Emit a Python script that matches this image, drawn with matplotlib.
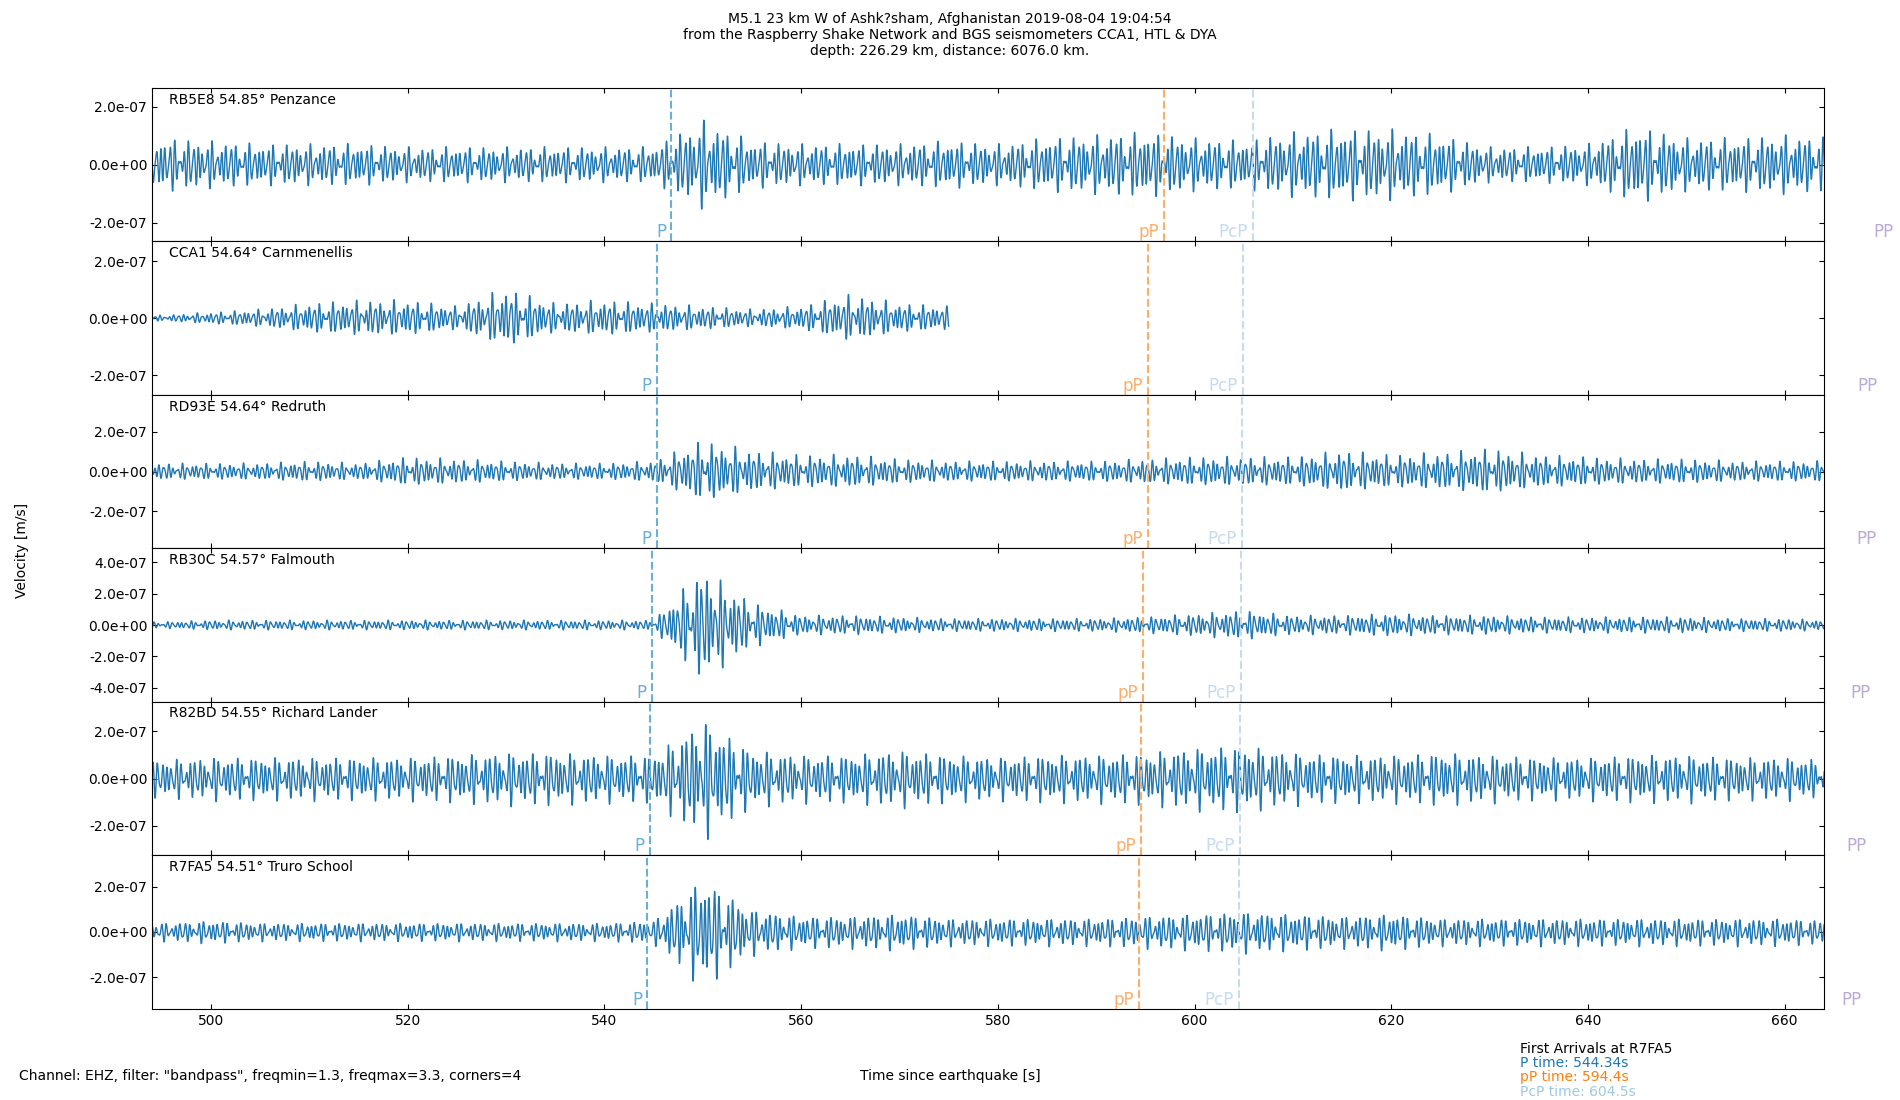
import numpy as np
import matplotlib
matplotlib.use("Agg")
import matplotlib.pyplot as plt

stations = ["RB5E8 54.85° Penzance", "CCA1 54.64° Carnmenellis", "RD93E 54.64° Redruth",
            "RB30C 54.57° Falmouth", "R82BD 54.55° Richard Lander", "R7FA5 54.51° Truro School"]
p_times = [546.8, 545.3, 545.3, 544.8, 544.6, 544.34]
pp_small_times = [596.9, 595.3, 595.3, 594.8, 594.6, 594.4]
pcp_times = [605.9, 604.9, 604.8, 604.7, 604.6, 604.5]
PP_times = [671.6, 670.0, 669.8, 669.2, 668.8, 668.3]
ylims = [2.65e-7, 2.7e-7, 3.85e-7, 4.9e-7, 3.25e-7, 3.4e-7]

# envelope (peak amplitude, 1e-7 m/s) every 5 s from 495 s
env_t = np.arange(495, 666, 5)
envelopes = [
    [0.9,0.8,0.7,0.7,0.7,0.6,0.6,0.6,0.6,0.6,0.6,1.5,0.8,0.7,0.7,0.7,0.8,0.7,0.9,1.0,1.1,0.9,0.8,1.1,1.2,1.2,1.0,0.6,0.6,0.7,1.3,0.9,0.9,1.0,0.9],
    [0.1,0.2,0.3,0.5,0.6,0.6,0.4,1.0,0.5,0.6,0.5,0.4,0.3,0.4,0.8,0.5,0.4] + [np.nan]*18,
    [0.4,0.4,0.4,0.5,0.4,0.7,0.6,0.5,0.4,0.4,0.5,1.5,1.0,0.8,0.8,0.6,0.5,0.5,0.5,0.5,0.6,0.7,0.7,0.7,1.0,0.8,0.9,1.1,0.8,0.7,0.6,0.6,0.5,0.5,0.5],
    [0.2,0.3,0.3,0.3,0.3,0.3,0.3,0.3,0.3,0.3,0.3,3.5,1.4,0.6,0.6,0.5,0.4,0.4,0.4,0.4,0.5,0.7,0.9,0.6,0.6,0.7,0.6,0.6,0.5,0.5,0.5,0.5,0.4,0.4,0.3],
    [0.8,0.9,0.9,0.9,0.9,0.9,1.0,1.1,1.1,1.0,1.0,2.5,1.2,1.0,1.0,1.2,1.0,0.9,1.0,1.0,1.1,1.3,1.4,1.1,1.0,1.0,1.1,1.0,0.9,0.9,1.0,1.0,0.9,0.9,0.8],
    [0.4,0.5,0.4,0.4,0.4,0.4,0.4,0.4,0.4,0.4,0.5,2.4,1.0,0.7,0.7,0.8,0.6,0.6,0.6,0.6,0.7,0.8,0.9,0.8,0.7,0.8,0.6,0.6,0.6,0.6,0.6,0.6,0.6,0.6,0.5],
]

fig, axes = plt.subplots(6, 1, sharex=True, figsize=(19, 11), dpi=100)
fig.subplots_adjust(left=0.080, right=0.960, top=0.920, bottom=0.083, hspace=0)

t = np.arange(494, 665, 0.02)
for i, ax in enumerate(axes):
    env = np.interp(t, env_t, np.array(envelopes[i], dtype=float)) * 1e-7
    carrier = (0.55 * np.sin(2 * np.pi * 2.1 * t + i) + 0.3 * np.sin(2 * np.pi * 2.9 * t + 2 * i)
               + 0.25 * np.sin(2 * np.pi * 1.6 * t + 3 * i))
    ax.plot(t, env * carrier, color="#1f77b4", lw=1)
    ax.set_xlim(494, 664)
    ax.set_ylim(-ylims[i], ylims[i])
    lim = 4e-7 if ylims[i] > 4e-7 else 2e-7
    ax.set_yticks(np.arange(-lim, lim + 1e-9, 2e-7))
    ax.yaxis.set_major_formatter(matplotlib.ticker.FormatStrFormatter("%.1e"))
    ax.tick_params(direction="in", right=True, top=True, labelsize=10)
    ax.text(0.01, 0.97, stations[i], transform=ax.transAxes, va="top", fontsize=10)
    ybot = -ylims[i]
    for x, lab, c in [(p_times[i], "P", "#6baed6"), (pp_small_times[i], "pP", "#fdae6b"),
                      (pcp_times[i], "PcP", "#c6dbef"), (PP_times[i], "PP", "#bcaad6")]:
        if x < 664:
            ax.axvline(x, color=c, ls="--", lw=1.5)
        ax.text(x - 0.5, ybot, lab, color=c, ha="right", va="bottom", fontsize=12, clip_on=False)

axes[-1].set_xticks(range(500, 661, 20))
axes[-1].tick_params(axis="x", labelsize=10)
fig.text(0.5, 0.968, "M5.1 23 km W of Ashk?sham, Afghanistan 2019-08-04 19:04:54\n"
         "from the Raspberry Shake Network and BGS seismometers CCA1, HTL & DYA\n"
         "depth: 226.29 km, distance: 6076.0 km.", ha="center", va="center", fontsize=10)
fig.text(0.008, 0.5, "Velocity [m/s]", rotation=90, va="center", fontsize=10)
fig.text(0.5, 0.018, "Time since earthquake [s]", ha="center", fontsize=10)
fig.text(0.01, 0.018, 'Channel: EHZ, filter: "bandpass", freqmin=1.3, freqmax=3.3, corners=4', fontsize=10)
fig.text(0.80, 0.043, "First Arrivals at R7FA5", fontsize=10)
fig.text(0.80, 0.030, "P time: 544.34s", color="#1f77b4", fontsize=10)
fig.text(0.80, 0.017, "pP time: 594.4s", color="#ff7f0e", fontsize=10)
fig.text(0.80, 0.004, "PcP time: 604.5s", color="#9ecae1", fontsize=10)
fig.savefig("out.png")
